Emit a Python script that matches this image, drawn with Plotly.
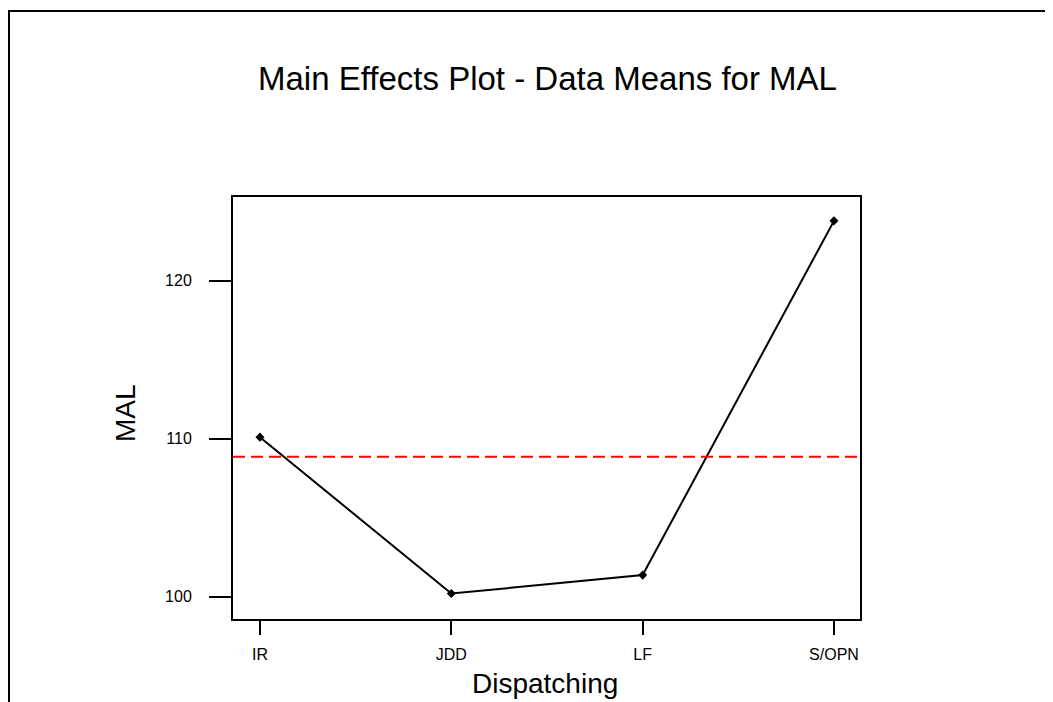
import plotly.graph_objects as go

categories = ["IR", "JDD", "LF", "S/OPN"]
means = [110.1, 100.2, 101.37, 123.79]
y_ticks = [100, 110, 120]

grand_mean = sum(means) / len(means)
xs = list(range(len(categories)))

fig = go.Figure()
fig.add_trace(go.Scatter(
    x=xs, y=means, mode="lines+markers",
    line=dict(color="black", width=2),
    marker=dict(symbol="diamond", size=7, color="black"),
    showlegend=False, hoverinfo="skip",
))

font = "Liberation Sans, Arial, sans-serif"
# plot area (page px): x 233..860, y 197..619
PW, PH = 627.0, 422.0
def px(xp):
    return (xp - 233) / PW
def py(yp):
    return (619 - yp) / PH

fig.update_layout(
    width=1045, height=694,
    margin=dict(l=225, r=193, t=189, b=83),
    paper_bgcolor="white", plot_bgcolor="white",
    font=dict(family=font, color="black"),
    shapes=[
        dict(type="line", xref="paper", yref="y", x0=0, x1=1,
             y0=grand_mean, y1=grand_mean,
             line=dict(color="#ff0000", width=2, dash="12px,6px")),
        dict(type="rect", xref="paper", yref="paper",
             x0=px(9), x1=px(1070), y0=py(720), y1=py(11),
             line=dict(color="black", width=2), layer="below"),
    ],
    annotations=[
        dict(text="Main Effects Plot - Data Means for MAL", xref="paper", yref="paper",
             x=px(547), y=py(78), showarrow=False, font=dict(size=33, family=font),
             xanchor="center", yanchor="middle"),
        dict(text="MAL", xref="paper", yref="paper", x=px(125), y=py(413),
             showarrow=False, textangle=-90, font=dict(size=28, family=font),
             xanchor="center", yanchor="middle"),
        dict(text="Dispatching", xref="paper", yref="paper", x=px(545), y=py(683),
             showarrow=False, font=dict(size=28, family=font),
             xanchor="center", yanchor="middle"),
    ],
)
fig.update_xaxes(
    range=[-0.141, 3.136], tickvals=xs, ticktext=categories,
    showgrid=False, zeroline=False, showline=True, linecolor="black", linewidth=2, mirror=True,
    ticks="outside", ticklen=14, tickwidth=2, tickcolor="black",
    tickfont=dict(size=16, family=font), ticklabelstandoff=6,
)
fig.update_yaxes(
    range=[98.59, 125.3], tickvals=y_ticks,
    showgrid=False, zeroline=False, showline=True, linecolor="black", linewidth=2, mirror=True,
    ticks="outside", ticklen=22, tickwidth=2, tickcolor="black",
    tickfont=dict(size=16, family=font), ticklabelstandoff=14,
)
fig.write_html("out.html")
